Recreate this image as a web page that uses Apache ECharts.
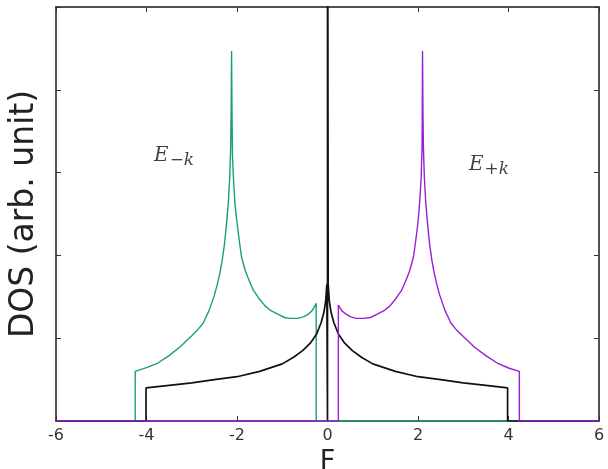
<!DOCTYPE html>
<html>
<head>
<meta charset="utf-8">
<script src="https://cdn.jsdelivr.net/npm/echarts@6/dist/echarts.min.js"></script>
<style>
  html, body { margin: 0; padding: 0; background: #fff; }
  #chart { width: 608px; height: 469px; }
</style>
</head>
<body>
<div id="chart"></div>
<script>
// DOS curves, [energy, dos]
var greenMinusK = [
  [-6, 0], [-4.25, 0], [-4.25, 0.60], [-4.0, 0.645], [-3.75, 0.70], [-3.5, 0.79], [-3.25, 0.90],
  [-3.0, 1.03], [-2.87, 1.10], [-2.75, 1.18], [-2.62, 1.33], [-2.5, 1.52], [-2.44, 1.64],
  [-2.38, 1.78], [-2.33, 1.93], [-2.28, 2.12], [-2.23, 2.39], [-2.19, 2.65], [-2.16, 2.95],
  [-2.14, 3.3], [-2.13, 3.7], [-2.12, 4.47], [-2.11, 3.7], [-2.10, 3.2], [-2.08, 2.95],
  [-2.06, 2.75], [-2.04, 2.59], [-2.0, 2.4], [-1.95, 2.18], [-1.9, 1.98], [-1.82, 1.82],
  [-1.75, 1.72], [-1.64, 1.58], [-1.5, 1.47], [-1.38, 1.39], [-1.27, 1.34], [-1.1, 1.29],
  [-0.95, 1.25], [-0.83, 1.24], [-0.65, 1.24], [-0.52, 1.26], [-0.42, 1.29], [-0.33, 1.34],
  [-0.25, 1.42], [-0.25, 0], [6, 0]
];
var purplePlusK = [
  [-6, 0], [0.24, 0], [0.24, 1.40], [0.32, 1.33], [0.41, 1.29], [0.5, 1.26], [0.63, 1.24],
  [0.8, 1.24], [0.95, 1.25], [1.1, 1.29], [1.27, 1.34], [1.38, 1.39], [1.5, 1.47], [1.64, 1.58],
  [1.75, 1.72], [1.82, 1.82], [1.9, 1.98], [1.95, 2.18], [2.0, 2.4], [2.03, 2.59], [2.05, 2.75],
  [2.07, 2.95], [2.09, 3.3], [2.10, 4.47], [2.11, 3.7], [2.12, 3.3], [2.14, 2.95], [2.17, 2.65],
  [2.21, 2.39], [2.26, 2.12], [2.31, 1.93], [2.36, 1.78], [2.42, 1.64], [2.48, 1.52],
  [2.6, 1.33], [2.73, 1.18], [2.85, 1.10], [3.0, 1.02], [3.25, 0.89], [3.5, 0.79], [3.75, 0.70],
  [4.0, 0.64], [4.24, 0.60], [4.24, 0], [6, 0]
];
var blackTotal = [
  [-6, 0], [-4.01, 0], [-4.01, 0.40], [-3.5, 0.43], [-3.0, 0.46], [-2.5, 0.50], [-2.0, 0.535],
  [-1.5, 0.60], [-1.0, 0.69], [-0.75, 0.77], [-0.55, 0.85], [-0.38, 0.94], [-0.24, 1.05],
  [-0.14, 1.19], [-0.08, 1.31], [-0.04, 1.45], [-0.015, 1.65], [0, 0], [0, 9], [0.015, 1.65],
  [0.04, 1.45], [0.08, 1.31], [0.14, 1.19], [0.24, 1.05], [0.38, 0.94], [0.55, 0.85],
  [0.75, 0.77], [1.0, 0.69], [1.5, 0.60], [2.0, 0.535], [2.5, 0.50], [3.0, 0.46], [3.5, 0.43],
  [3.98, 0.40], [3.98, 0], [6, 0]
];
var xTicks = [-6, -4, -2, 0, 2, 4, 6];
// annotation anchors, [energy, dos]
var labelPoints = [
  { at: [-3.39, 3.2], sub: '\u2212k' },
  { at: [3.57, 3.09], sub: '+k' }
];

var frame = { show: true, onZero: false, lineStyle: { color: '#1a1a1a', width: 1.5 } };
var tickIn = { show: true, inside: true, length: 5, lineStyle: { color: '#333', width: 1 } };

function curve(name, data, color, width) {
  return {
    name: name, type: 'line', data: data, showSymbol: false, animation: false,
    clip: true, lineStyle: { color: color, width: width }
  };
}

var chart = echarts.init(document.getElementById('chart'), null, { renderer: 'canvas' });

chart.setOption({
  backgroundColor: '#fff',
  animation: false,
  grid: { left: 56, right: 9, top: 7, bottom: 48, containLabel: false, outerBoundsMode: 'none' },
  xAxis: [{
    type: 'value', min: -6, max: 6, interval: 2, position: 'bottom',
    name: 'F', nameLocation: 'middle', nameGap: 24,
    nameTextStyle: { fontFamily: 'DejaVu Sans', fontSize: 27, color: '#222' },
    axisLine: frame, axisTick: tickIn, splitLine: { show: false },
    axisLabel: {
      margin: 7, fontFamily: 'DejaVu Sans', fontSize: 16, color: '#333',
      customValues: xTicks
    }
  }, {
    type: 'value', min: -6, max: 6, interval: 2, position: 'top',
    axisLine: frame, axisTick: tickIn, axisLabel: { show: false }, splitLine: { show: false }
  }],
  yAxis: [{
    type: 'value', min: 0, max: 5, interval: 1, position: 'left',
    name: 'DOS (arb. unit)', nameLocation: 'middle', nameGap: 15,
    nameTextStyle: { fontFamily: 'DejaVu Sans', fontSize: 33, color: '#222' },
    axisLine: frame, axisTick: tickIn, axisLabel: { show: false }, splitLine: { show: false }
  }, {
    type: 'value', min: 0, max: 5, interval: 1, position: 'right',
    axisLine: frame, axisTick: tickIn, axisLabel: { show: false }, splitLine: { show: false }
  }],
  series: [
    curve('E-k', greenMinusK, '#1a9e77', 1.4),
    curve('total', blackTotal, '#111', 1.7),
    curve('E+k', purplePlusK, '#9a1ed8', 1.4),
    {
      type: 'scatter', silent: true, animation: false, z: 5,
      symbolSize: 1, itemStyle: { color: 'rgba(0,0,0,0)' },
      data: labelPoints.map(function (p) { return { value: p.at, sub: p.sub }; }),
      label: {
        show: true, position: 'inside',
        formatter: function (p) { return '{e|E}{s|' + p.data.sub + '}'; },
        rich: {
          e: { fontFamily: 'DejaVu Serif', fontStyle: 'italic', fontSize: 20, color: '#111' },
          s: { fontFamily: 'DejaVu Serif', fontStyle: 'italic', fontSize: 17, color: '#111', padding: [9, 0, 0, 1] }
        }
      }
    }
  ]
});
</script>
</body>
</html>
